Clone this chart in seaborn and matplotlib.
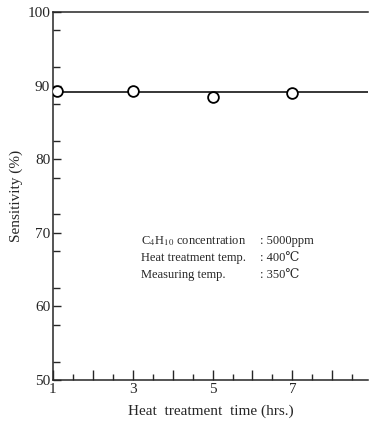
import matplotlib
matplotlib.use('agg')
import numpy as np
import pandas as pd
import matplotlib.pyplot as plt
import seaborn as sns

sns.set_style('ticks')
plt.rcParams['font.family'] = ['Liberation Serif', 'DejaVu Serif']
plt.rcParams['mathtext.fontset'] = 'stix'

# values
hours = [1.1, 3.0, 5.0, 7.0]
sensitivity = [89.2, 89.2, 88.5, 89.0]
fit_hours = [1.0, 8.9]
fit_level = [89.1, 89.1]

cond_names = ['C$_4$H$_{10}$ concentration', 'Heat treatment temp.', 'Measuring temp.']
cond_values = [': 5000ppm', ': 400\u2103', ': 350\u2103']

df = pd.DataFrame({'hours': hours, 'sensitivity': sensitivity})
fit = pd.DataFrame({'hours': fit_hours, 'sensitivity': fit_level})

fig = plt.figure(figsize=(3.73, 4.25), dpi=100)
ax = fig.add_axes([0.142, 0.106, 0.845, 0.866])

sns.lineplot(data=fit, x='hours', y='sensitivity', color='black', lw=1.1, ax=ax)
sns.scatterplot(data=df, x='hours', y='sensitivity', s=60, facecolor='white',
                edgecolor='black', linewidth=1.3, zorder=3, ax=ax)

ax.set_xlim(1, 8.9)
ax.set_ylim(50, 100)
ax.set_xticks(range(1, 9))
ax.set_xticklabels([str(h) if h % 2 == 1 else '' for h in range(1, 9)])
ax.set_xticks(np.arange(1.5, 8.6, 1.0), minor=True)
ax.set_yticks(range(50, 101, 10))
ax.set_yticks(np.arange(52.5, 100, 5), minor=True)
ax.tick_params(axis='both', which='both', direction='in', labelsize=11, width=1, pad=2)
ax.tick_params(axis='x', which='major', length=7)
ax.tick_params(axis='x', which='minor', length=4)
ax.tick_params(axis='y', which='major', length=6)
ax.tick_params(axis='y', which='minor', length=5)

ax.spines['right'].set_visible(False)
for s in ['left', 'bottom', 'top']:
    ax.spines[s].set_linewidth(1.1)

ax.set_xlabel('Heat  treatment  time (hrs.)', fontsize=11, labelpad=6)
ax.set_ylabel('Sensitivity (%)', fontsize=11, labelpad=3)

for i, (n, v) in enumerate(zip(cond_names, cond_values)):
    y = 68.9 - i * 2.35
    ax.text(3.2, y, n, fontsize=9, va='center', ha='left')
    ax.text(6.2, y, v, fontsize=9, va='center', ha='left')

fig.savefig('out.png', dpi=100)
